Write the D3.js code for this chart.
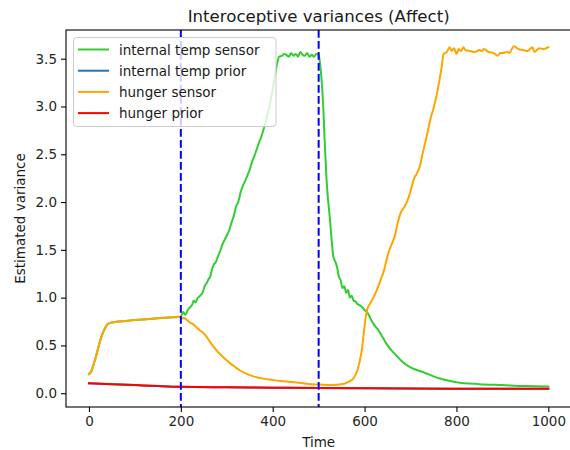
<!DOCTYPE html>
<html><head><meta charset="utf-8">
<script src="https://cdn.jsdelivr.net/npm/d3@7"></script>
<style>body{margin:0;background:#fff}svg{display:block;font-family:"DejaVu Sans",sans-serif}</style>
</head><body><div id="chart"></div>
<script>
const title = "Interoceptive variances (Affect)";
const xLabel = "Time";
const yLabel = "Estimated variance";
const xTicks = [0, 200, 400, 600, 800, 1000];
const yTicks = [0.0, 0.5, 1.0, 1.5, 2.0, 2.5, 3.0, 3.5];
const vLines = [200, 500];

const hungerSensorT = [0,5,10,15,20,25,30,35,40,45,50,100,150,200,203,206,210,215,220,227,234,241,249,256,263,274,285,296,307,318,329,340,350,365,380,398,416,434,452,474,496,520,540,555,565,575,585,590,594,598,602,606,612,618,624,630,636,642,648,654,660,666,672,678,684,690,696,702,708,714,720,726,732,738,744,750,756,762,768,772,776,780,785,790,795,800,805,810,815,820,830,840,850,855,860,870,880,890,895,900,910,915,925,935,945,955,965,970,980,990,1000];
const hungerSensorV = [0.20,0.23,0.30,0.38,0.47,0.56,0.63,0.68,0.72,0.735,0.74,0.765,0.785,0.80,0.78,0.79,0.78,0.76,0.74,0.72,0.69,0.66,0.63,0.59,0.54,0.47,0.41,0.36,0.315,0.275,0.238,0.21,0.19,0.168,0.153,0.14,0.128,0.12,0.113,0.10,0.092,0.087,0.09,0.10,0.12,0.15,0.25,0.35,0.45,0.62,0.78,0.88,0.94,0.99,1.05,1.12,1.20,1.28,1.40,1.50,1.57,1.65,1.78,1.88,1.93,1.98,2.05,2.15,2.25,2.30,2.37,2.50,2.62,2.75,2.88,2.98,3.10,3.25,3.42,3.55,3.56,3.58,3.62,3.58,3.61,3.55,3.60,3.58,3.62,3.59,3.58,3.57,3.59,3.58,3.60,3.57,3.56,3.53,3.56,3.56,3.57,3.56,3.63,3.60,3.59,3.58,3.62,3.57,3.61,3.60,3.62];

const tempSensorT = [0,5,10,15,20,25,30,35,40,45,50,100,150,200,205,210,215,220,225,228,232,236,242,248,252,256,260,264,268,272,276,280,285,290,295,300,305,310,315,320,325,330,335,340,345,350,355,360,365,370,375,380,385,390,395,400,405,410,414,420,425,430,435,440,445,450,455,460,465,470,475,480,485,490,495,500,503,506,510,513,517,520,524,528,532,536,540,544,548,552,556,560,564,568,572,576,580,585,590,595,600,605,610,615,620,630,640,650,660,670,680,690,700,728,760,800,850,900,950,1000];
const tempSensorV = [0.20,0.23,0.30,0.38,0.47,0.56,0.63,0.68,0.72,0.735,0.74,0.765,0.785,0.80,0.85,0.82,0.87,0.90,0.93,0.97,0.95,0.99,1.02,1.06,1.12,1.15,1.19,1.22,1.30,1.35,1.37,1.42,1.48,1.55,1.60,1.65,1.70,1.78,1.85,1.95,2.00,2.10,2.17,2.22,2.28,2.34,2.42,2.48,2.55,2.62,2.68,2.76,2.84,2.95,3.05,3.18,3.32,3.46,3.52,3.53,3.55,3.54,3.52,3.56,3.53,3.55,3.52,3.57,3.54,3.53,3.56,3.52,3.54,3.52,3.55,3.54,3.45,3.30,3.00,2.65,2.25,2.05,1.85,1.62,1.43,1.38,1.32,1.22,1.18,1.10,1.12,1.05,1.08,1.00,1.02,0.97,0.96,0.93,0.92,0.90,0.87,0.85,0.81,0.76,0.72,0.66,0.58,0.50,0.44,0.39,0.34,0.30,0.27,0.22,0.16,0.115,0.095,0.085,0.075,0.07];

const priorT = [0,50,100,150,200,300,400,500,600,800,1000];
const hungerPriorV = [0.105,0.095,0.085,0.075,0.067,0.062,0.058,0.054,0.051,0.048,0.046];
const tempPriorV = [0.105,0.095,0.085,0.075,0.067,0.062,0.058,0.054,0.051,0.048,0.046];

const W = 570, H = 450;
const L = 66, R = 571.3, T = 30, B = 407;
const svg = d3.select("#chart").append("svg").attr("width", W).attr("height", H);
const x = d3.scaleLinear().domain([-50, 1050]).range([L, R]);
const y = d3.scaleLinear().domain([-0.144, 3.80]).range([B, T]);

const series = [
  {name: "internal temp sensor", color: "#32cd32", t: tempSensorT, v: tempSensorV},
  {name: "internal temp prior", color: "#1f77b4", t: priorT, v: tempPriorV},
  {name: "hunger sensor", color: "#ffa500", t: hungerSensorT, v: hungerSensorV},
  {name: "hunger prior", color: "#ff0000", t: priorT, v: hungerPriorV}
];

const clipId = "plotclip";
svg.append("clipPath").attr("id", clipId).append("rect").attr("x", L).attr("y", T).attr("width", R - L).attr("height", B - T);
const g = svg.append("g").attr("clip-path", `url(#${clipId})`);
const line = d3.line().curve(d3.curveMonotoneX).x(d => x(d[0])).y(d => y(d[1]));
series.forEach(s => {
  g.append("path").datum(s.t.map((t, i) => [t, s.v[i]]))
    .attr("d", line).attr("fill", "none").attr("stroke", s.color)
    .attr("stroke-width", 2).attr("stroke-linejoin", "round").attr("stroke-linecap", "square");
});
vLines.forEach(v => {
  g.append("line").attr("x1", x(v)).attr("x2", x(v)).attr("y1", T).attr("y2", B)
    .attr("stroke", "#0000ff").attr("stroke-width", 2).attr("stroke-dasharray", "7.7,3.3");
});

// axes
const xAxis = svg.append("g").attr("transform", `translate(0,${B})`)
  .call(d3.axisBottom(x).tickValues(xTicks).tickSize(5).tickPadding(4).tickFormat(d3.format("d")));
const yAxis = svg.append("g").attr("transform", `translate(${L},0)`)
  .call(d3.axisLeft(y).tickValues(yTicks).tickSize(5).tickPadding(4).tickFormat(d3.format(".1f")));
[xAxis, yAxis].forEach(a => {
  a.select(".domain").remove();
  a.selectAll("text").attr("font-size", 13.5).attr("fill", "#262626").attr("font-family", "DejaVu Sans");
  a.selectAll("line").attr("stroke", "#000").attr("stroke-width", 1.1);
});
svg.append("rect").attr("x", L).attr("y", T).attr("width", R - L).attr("height", B - T)
  .attr("fill", "none").attr("stroke", "#000").attr("stroke-width", 1.1);

svg.append("text").attr("x", (L + R) / 2).attr("y", 22).attr("text-anchor", "middle")
  .attr("font-size", 16.6).attr("fill", "#1a1a1a").text(title);
svg.append("text").attr("x", (L + R) / 2).attr("y", 447).attr("text-anchor", "middle")
  .attr("font-size", 13.5).attr("fill", "#1a1a1a").text(xLabel);
svg.append("text").attr("transform", `translate(25,${(T + B) / 2}) rotate(-90)`).attr("text-anchor", "middle")
  .attr("font-size", 13.5).attr("fill", "#1a1a1a").text(yLabel);

// legend
const lg = svg.append("g");
lg.append("rect").attr("x", 73.5).attr("y", 37.5).attr("width", 202.5).attr("height", 89).attr("rx", 3)
  .attr("fill", "#fff").attr("fill-opacity", 0.8).attr("stroke", "#cccccc").attr("stroke-width", 1);
series.forEach((s, i) => {
  const cy = 49.5 + i * 21.2;
  lg.append("line").attr("x1", 78).attr("x2", 109).attr("y1", cy).attr("y2", cy).attr("stroke", s.color).attr("stroke-width", 2);
  lg.append("text").attr("x", 119).attr("y", cy + 5).attr("font-size", 13.5).attr("fill", "#1a1a1a").text(s.name);
});
</script></body></html>
